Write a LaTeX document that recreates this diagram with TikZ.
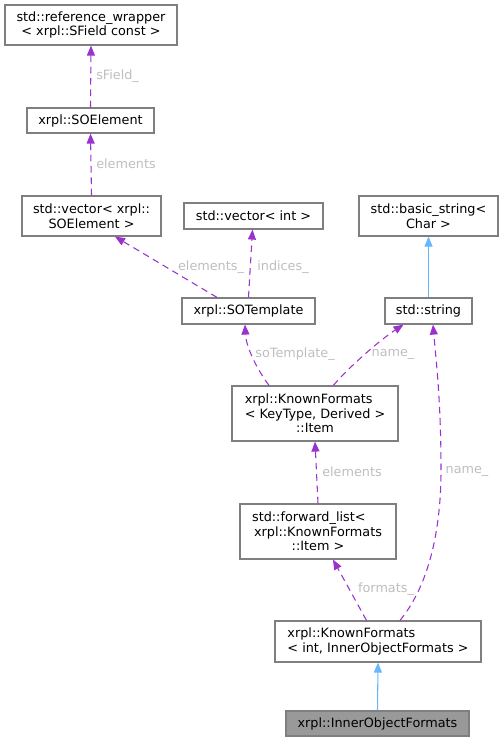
\documentclass[tikz,border=0pt]{standalone}
\usepackage{fontspec}
\setmainfont{DejaVu Sans}
\usepackage{calc}
\usetikzlibrary{arrows.meta,calc}
\definecolor{edgemem}{HTML}{9A32CD}
\definecolor{edgeinh}{HTML}{63B8FF}
\definecolor{boxline}{HTML}{7F7F7F}
\definecolor{lbl}{HTML}{BEBEBE}
\definecolor{hilite}{HTML}{999999}
\newcommand\leftin[2]{\makebox[\widthof{#2}][l]{#1}}
\begin{document}
\begin{tikzpicture}[x=0.75pt,y=-0.75pt,
  font=\fontsize{9.6pt}{11pt}\selectfont,
  box/.style={draw=boxline,line width=0.9pt,fill=white,inner sep=0pt,align=center},
  hibox/.style={box,fill=hilite},
  mem/.style={draw=edgemem,line width=0.8pt,dash pattern=on 5pt off 3.5pt,-{Triangle[length=7.5pt,width=6pt,fill=edgemem]}},
  inh/.style={draw=edgeinh,line width=0.8pt,-{Triangle[length=7.5pt,width=6pt,fill=edgeinh]}},
  lab/.style={text=lbl,inner sep=0pt}]
\useasboundingbox (0,0) rectangle (503,741);
\node[box,minimum width=129pt,minimum height=30pt] (refwrap) at (91,25) {std::reference\_wrapper\\< xrpl::SField const >};
\node[box,minimum width=95.25pt,minimum height=18.75pt] (soel) at (90.5,120.5) {xrpl::SOElement};
\node[box,minimum width=104.25pt,minimum height=30pt] (vecsoe) at (91.5,216) {std::vector< xrpl::\\SOElement >};
\node[box,minimum width=104.25pt,minimum height=19.5pt] (vecint) at (253.5,216) {std::vector< int >};
\node[box,minimum width=104.25pt,minimum height=30pt] (bstr) at (428.5,216) {std::basic\_string<\\Char >};
\node[box,minimum width=99.75pt,minimum height=19.5pt] (sotpl) at (248.5,311) {xrpl::SOTemplate};
\node[box,minimum width=65.25pt,minimum height=19.5pt] (str) at (428.5,311) {std::string};
\node[box,minimum width=124.5pt,minimum height=41.25pt] (item) at (315,413.5) {\leftin{xrpl::KnownFormats}{< KeyType, Derived >}\\< KeyType, Derived >\\::Item};
\node[box,minimum width=117pt,minimum height=41.25pt] (fwd) at (318,531.5) {\hspace*{-3pt}\leftin{std::forward\_list<}{xrpl::KnownFormats}\\xrpl::KnownFormats\\::Item >};
\node[box,minimum width=154.5pt,minimum height=30.75pt] (kfint) at (378,641.5) {\leftin{xrpl::KnownFormats}{< int, InnerObjectFormats >}\\< int, InnerObjectFormats >};
\node[hibox,minimum width=137.25pt,minimum height=18.75pt] (iof) at (377.5,723.5) {xrpl::InnerObjectFormats};
% edges
\draw[mem] (soel.north) -- (refwrap.south);
\draw[mem] (vecsoe.north) -- (soel.south);
\draw[mem] ($(sotpl.north)+(-31.5,0)$) -- ($(vecsoe.south)+(23.5,0)$);
\draw[mem] (sotpl.north) -- ($(vecint.south)+(-1,0)$);
\draw[inh] (str.north) -- (bstr.south);
\draw[mem] ($(item.north)+(-46,0)$) .. controls (256,368) and (246,346) .. ($(sotpl.south)+(-3.5,0)$);
\draw[mem] ($(item.north)+(18.3,0)$) .. controls (350,366) and (380,340) .. ($(str.south)+(-25,0)$);
\draw[mem] ($(kfint.north)+(22,0)$) .. controls (425,590) and (441,540) .. (441,470) .. controls (441,400) and (436,360) .. ($(str.south)+(4.5,0)$);
\draw[mem] (fwd.north) -- (item.south);
\draw[mem] ($(kfint.north)+(-11.5,0)$) -- ($(fwd.south)+(15,0)$);
\draw[inh] (iof.north) -- (kfint.south);
% labels
\node[lab,anchor=west] (l1) at (96,76) {sField\_};
\node[lab,anchor=west] (l2) at (96,164) {elements};
\node[lab] (l3) at (211,267) {elements\_};
\node[lab] (l4) at (283,267) {indices\_};
\node[lab] (l5) at (295,354) {soTemplate\_};
\node[lab] (l6) at (393,354) {name\_};
\node[lab] (l7) at (352,471.5) {elements};
\node[lab] (l8) at (467,471.5) {name\_};
\node[lab] (l9) at (386,589) {formats\_};
\end{tikzpicture}
\end{document}
